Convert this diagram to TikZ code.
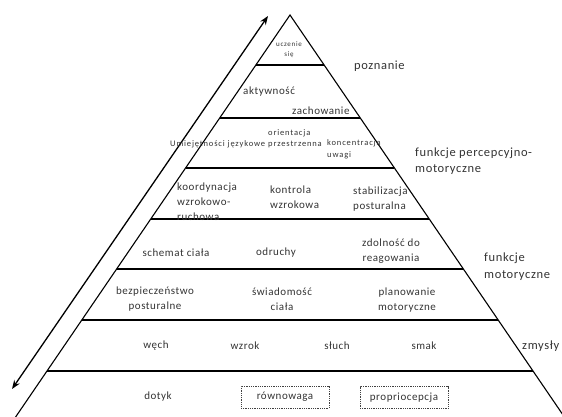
\documentclass[tikz,border=0pt]{standalone}
\usepackage{fontspec}
\setmainfont{Carlito}
\newfontfamily\pyrfont[LetterSpace=5]{Carlito}
\newfontfamily\widefont[LetterSpace=10]{Carlito}
\newfontfamily\sidefont[LetterSpace=5]{Carlito}
\usepackage{xcolor}
\usepackage{tikz}
\usetikzlibrary{positioning,arrows.meta}

\colorlet{txt}{black!80}

\begin{document}
\begin{tikzpicture}[
  x=1pt, y=-1pt,
  pyr/.style={font=\pyrfont\fontsize{11}{15}\selectfont, text=txt, inner sep=0pt, align=center},
  pyrl/.style={pyr, align=left, anchor=west},
  small/.style={font=\widefont\fontsize{8.5}{11.5}\selectfont, text=txt, inner sep=0pt, align=left, anchor=west},
  side/.style={font=\sidefont\fontsize{12.5}{16.5}\selectfont, text=txt, inner sep=0pt, align=left, anchor=west},
  dotbox/.style={pyr, draw=black!75, densely dotted, line width=0.8pt, minimum width=88pt, minimum height=22pt},
  edge/.style={line width=1.1pt},
  level/.style={line width=1.6pt},
  arr/.style={Stealth-Stealth, line width=1.3pt},
]
\useasboundingbox (0,0) rectangle (562,417);

% pyramid
\coordinate (apex) at (290,15);
\coordinate (bl) at (15.6,417);
\coordinate (br) at (564.4,417);
\draw[edge] (bl) -- (apex) -- (br);
\foreach \y in {65,118,168,219,269,320,371}
  \draw[level] ({290-0.6826*(\y-15)},\y) -- ({290+0.6826*(\y-15)},\y);

% arrow along the left side
\coordinate (arrbot) at (12,389);
\coordinate (arrtop) at (268,16);
\draw[arr] (arrbot) -- (arrtop);

% levels, top to bottom
\node[pyr, font=\widefont\fontsize{7}{9.5}\selectfont] (learn) at (289,49.5) {uczenie\\się};
\node[pyrl] (activity) at (243,92) {aktywność};
\node[pyrl] (behaviour) at (292,111) {zachowanie};
\node[small] (language) at (170,144) {Umiejętności językowe};
\node[small] (orient) at (268,139) {orientacja\\przestrzenna};
\node[small] (focus) at (327,149.5) {koncentracja\\uwagi};
\node[pyrl] (coord) at (177,202) {koordynacja\\wzrokowo-\\ruchowa};
\node[pyrl] (eyectrl) at (270,197.5) {kontrola\\wzrokowa};
\node[pyrl] (stab) at (353,199.5) {stabilizacja\\posturalna};
\node[pyr] (schema) at (176,253) {schemat ciała};
\node[pyr] (reflex) at (276,253) {odruchy};
\node[pyr] (react) at (391,251) {zdolność do\\reagowania};
\node[pyr] (safety) at (155,299.5) {bezpieczeństwo\\posturalne};
\node[pyr] (aware) at (282,299.5) {świadomość\\ciała};
\node[pyr] (plan) at (407,300) {planowanie\\motoryczne};
\node[pyr] (smell) at (156,346) {węch};
\node[pyr] (sight) at (245,346) {wzrok};
\node[pyr] (hear) at (337,346) {słuch};
\node[pyr] (taste) at (424,346) {smak};
\node[pyr] (touch) at (158,397) {dotyk};
\node[dotbox] (balance) at (285,397) {równowaga};
\node[dotbox] (proprio) at (404,397.5) {propriocepcja};

% group labels on the right
\node[side] (cogn) at (354,66) {poznanie};
\node[side] (percmot) at (415,161) {funkcje percepcyjno-\\motoryczne};
\node[side] (motor) at (484,266.5) {funkcje\\motoryczne};
\node[side] (senses) at (522,346) {zmysły};
\end{tikzpicture}
\end{document}
